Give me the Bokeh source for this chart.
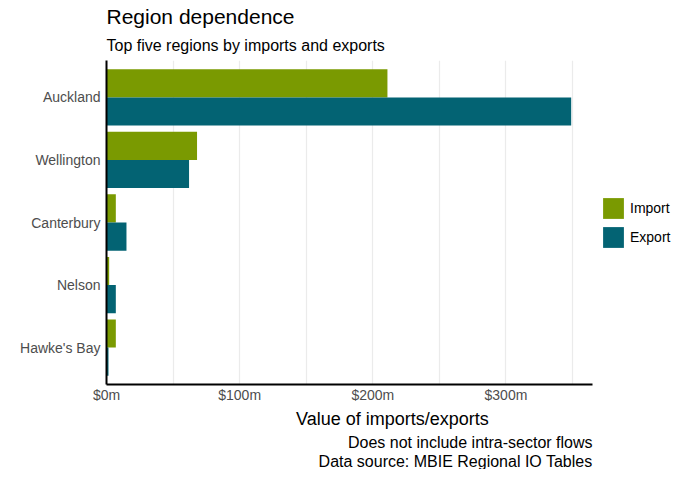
from bokeh.plotting import figure
from bokeh.models import (FactorRange, Range1d, ColumnDataSource, Legend, LegendItem,
                          Title, FixedTicker, CustomJSTickFormatter)
from bokeh.transform import dodge
from bokeh.embed import file_html
from bokeh.resources import INLINE

regions = ["Auckland", "Wellington", "Canterbury", "Nelson", "Hawke's Bay"]
imports = [211, 68, 7, 2, 7]
exports = [349, 62, 15, 7, 1.5]
x_ticks = [0, 100, 200, 300]
x_minor = [50, 150, 250, 350]
series = ["Import", "Export"]
colors = ["#7A9A01", "#036373"]

FONT = "Liberation Sans"
AXIS_END = 365          # end of the drawn value axis
VIEW_END = 429.6        # frame continues to the right to host the legend

src = ColumnDataSource(dict(region=regions, imp=imports, exp=exports))

yr = FactorRange(factors=list(reversed(regions)), range_padding=0.036, range_padding_units="percent")
p = figure(width=678, height=469, y_range=yr, x_range=Range1d(0, VIEW_END),
           output_backend="svg", toolbar_location=None,
           min_border_left=106, min_border_right=0, min_border_top=60, min_border_bottom=10)
p.title = None

r_imp = p.hbar(y=dodge("region", 0.225, range=p.y_range), right="imp", left=0, height=0.45,
               source=src, color=colors[0], line_color=None)
r_exp = p.hbar(y=dodge("region", -0.225, range=p.y_range), right="exp", left=0, height=0.45,
               source=src, color=colors[1], line_color=None)

# axes
p.xaxis.ticker = FixedTicker(ticks=x_ticks, minor_ticks=x_minor)
p.xaxis.formatter = CustomJSTickFormatter(code="return '$' + tick + 'm';")
p.xaxis.bounds = (0, AXIS_END)
p.xaxis.axis_label = "Value of imports/exports"
p.xaxis.axis_label_text_font = FONT
p.xaxis.axis_label_text_font_size = "18px"
p.xaxis.axis_label_text_font_style = "normal"
p.xaxis.axis_label_text_color = "#000000"
p.xaxis.axis_label_standoff = 3
for ax in (p.xaxis, p.yaxis):
    ax.major_tick_line_color = None
    ax.minor_tick_line_color = None
    ax.major_tick_out = 0
    ax.major_tick_in = 0
    ax.minor_tick_out = 0
    ax.minor_tick_in = 0
    ax.axis_line_color = "#000000"
    ax.axis_line_width = 2
    ax.major_label_text_font = FONT
    ax.major_label_text_font_size = "14px"
    ax.major_label_text_color = "#4D4D4D"
    ax.major_label_standoff = 2
p.yaxis.major_label_standoff = 6

p.xgrid.bounds = (0, AXIS_END)
p.xgrid.grid_line_color = "#EBEBEB"
p.xgrid.grid_line_width = 1.2
p.xgrid.minor_grid_line_color = "#EBEBEB"
p.xgrid.minor_grid_line_width = 1.2
p.ygrid.grid_line_color = None
p.outline_line_color = None

# titles
sub = Title(text="Top five regions by imports and exports", text_font=FONT,
            text_font_size="16px", text_font_style="normal", text_color="#000000",
            align="left", offset=0, standoff=13)
main = Title(text="Region dependence", text_font=FONT, text_font_size="21px",
             text_font_style="normal", text_color="#000000", align="left", offset=0, standoff=1)
p.add_layout(sub, "above")
p.add_layout(main, "above")

cap1 = Title(text="Does not include intra-sector flows", text_font=FONT, text_font_size="16px",
             text_font_style="normal", text_color="#000000", align="right", standoff=0, offset=86)
cap2 = Title(text="Data source: MBIE Regional IO Tables", text_font=FONT, text_font_size="16px",
             text_font_style="normal", text_color="#000000", align="right", standoff=0, offset=86)
p.add_layout(cap1, "below")
p.add_layout(cap2, "below")

legend = Legend(items=[LegendItem(label=series[0], renderers=[r_imp]),
                       LegendItem(label=series[1], renderers=[r_exp])],
                glyph_width=26, glyph_height=26, spacing=3, padding=0, margin=0,
                label_text_font=FONT, label_text_font_size="14px", label_standoff=4,
                label_text_color="#000000",
                border_line_color=None, background_fill_alpha=0, location=(494, 134))
p.add_layout(legend, "center")

open("out.html", "w").write(file_html(p, INLINE))
